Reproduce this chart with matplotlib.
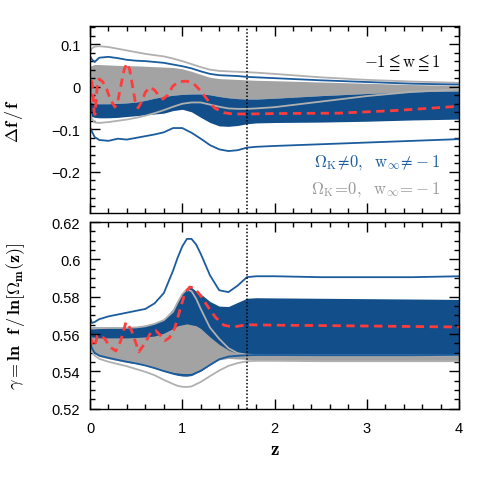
import matplotlib
matplotlib.use('Agg')
import matplotlib.pyplot as plt
from matplotlib.ticker import MultipleLocator, FuncFormatter

plt.rcParams['font.family'] = ['Liberation Sans', 'DejaVu Sans']
plt.rcParams['mathtext.fontset'] = 'cm'

# ---- top panel data (Delta f / f) ----
z_top = [0, 0.02, 0.05, 0.1, 0.2, 0.3, 0.4, 0.5, 0.6, 0.7, 0.8, 0.9, 1.0,
         1.1, 1.2, 1.3, 1.4, 1.5, 1.6, 1.7, 1.8, 2.0, 2.5, 3.0, 3.5, 4.0]
grey_hi_top = [0.048, 0.05, 0.052, 0.052, 0.051, 0.05, 0.049, 0.049, 0.048, 0.047,
               0.046, 0.045, 0.042, 0.036, 0.029, 0.022, 0.019, 0.018, 0.017, 0.016,
               0.015, 0.014, 0.011, 0.008, 0.005, 0.003]
grey_line_hi_top = [0.08, 0.09, 0.094, 0.095, 0.093, 0.089, 0.085, 0.081, 0.077, 0.074,
                    0.071, 0.066, 0.06, 0.053, 0.046, 0.04, 0.037, 0.036, 0.035, 0.034,
                    0.033, 0.03, 0.022, 0.016, 0.012, 0.009]
blue_line_hi_top = [0.072, 0.064, 0.058, 0.068, 0.07, 0.067, 0.063, 0.061, 0.06, 0.058,
                    0.056, 0.052, 0.048, 0.043, 0.036, 0.03, 0.027, 0.026, 0.025, 0.023,
                    0.022, 0.02, 0.015, 0.011, 0.007, 0.005]
blue_hi_top = [-0.036, -0.038, -0.04, -0.04, -0.04, -0.039, -0.038, -0.036, -0.032, -0.027,
               -0.023, -0.02, -0.018, -0.017, -0.017, -0.019, -0.023, -0.026, -0.028, -0.029,
               -0.029, -0.027, -0.021, -0.016, -0.012, -0.01]
blue_lo_top = [-0.068, -0.07, -0.072, -0.073, -0.073, -0.072, -0.07, -0.068, -0.066, -0.064,
               -0.062, -0.056, -0.053, -0.059, -0.072, -0.084, -0.092, -0.093, -0.091, -0.087,
               -0.085, -0.084, -0.083, -0.081, -0.078, -0.076]
grey_line_lo_top = [-0.06, -0.075, -0.084, -0.085, -0.083, -0.08, -0.077, -0.073, -0.068, -0.062,
                    -0.055, -0.047, -0.04, -0.037, -0.037, -0.042, -0.047, -0.051, -0.052, -0.052,
                    -0.051, -0.048, -0.035, -0.022, -0.012, -0.006]
blue_line_lo_top = [-0.095, -0.105, -0.118, -0.125, -0.127, -0.122, -0.124, -0.12, -0.116, -0.112,
                    -0.107, -0.097, -0.097, -0.108, -0.122, -0.137, -0.147, -0.151, -0.149, -0.143,
                    -0.141, -0.139, -0.135, -0.131, -0.127, -0.123]
z_red_top = [0, 0.01, 0.02, 0.03, 0.045, 0.055, 0.07, 0.085, 0.1, 0.14, 0.18, 0.22, 0.27,
             0.3, 0.335, 0.37, 0.4, 0.43, 0.46, 0.49, 0.52, 0.56, 0.6, 0.65, 0.7, 0.75,
             0.79, 0.84, 0.9, 0.97, 1.05, 1.12, 1.2, 1.27, 1.35, 1.45, 1.55, 1.7, 2.0,
             2.7, 3.3, 4.0]
red_top = [-0.024, 0.005, 0.012, -0.01, -0.06, -0.065, -0.02, 0.015, 0.018, 0.011, -0.005,
           -0.03, -0.048, -0.035, 0.003, 0.04, 0.055, 0.04, 0.003, -0.035, -0.05, -0.035,
           -0.013, -0.001, -0.008, -0.022, -0.029, -0.02, 0.002, 0.012, 0.013, 0.008, -0.01,
           -0.03, -0.05, -0.061, -0.064, -0.064, -0.063, -0.062, -0.056, -0.046]

# ---- bottom panel data (growth index gamma) ----
z_bot = [0, 0.02, 0.05, 0.1, 0.2, 0.3, 0.4, 0.5, 0.6, 0.7, 0.8, 0.9, 0.95, 1.0, 1.05,
         1.1, 1.15, 1.2, 1.3, 1.4, 1.5, 1.6, 1.7, 1.8, 2.0, 2.5, 3.0, 3.5, 4.0]
blue_line_hi_bot = [0.569, 0.566, 0.5665, 0.568, 0.5695, 0.5705, 0.5715, 0.5725, 0.5735, 0.5765,
                    0.582, 0.594, 0.601, 0.607, 0.611, 0.611, 0.608, 0.603, 0.5915, 0.5835,
                    0.5825, 0.586, 0.5905, 0.591, 0.591, 0.5905, 0.5905, 0.5905, 0.591]
blue_hi_bot = [0.5635, 0.5638, 0.5638, 0.5638, 0.5638, 0.5638, 0.5638, 0.564, 0.5648, 0.566,
               0.568, 0.5735, 0.578, 0.582, 0.585, 0.585, 0.583, 0.5815, 0.5775, 0.575,
               0.5748, 0.577, 0.5792, 0.5795, 0.5794, 0.5792, 0.579, 0.5788, 0.5786]
grey_line_hi_bot = [0.563, 0.563, 0.563, 0.5632, 0.5633, 0.5633, 0.5634, 0.5636, 0.5642, 0.5655,
                    0.5675, 0.572, 0.577, 0.5815, 0.584, 0.583, 0.579, 0.5735, 0.5635, 0.5575,
                    0.5525, 0.5498, 0.549, 0.5488, 0.5487, 0.5486, 0.5486, 0.5486, 0.5486]
grey_hi_bot = [0.5585, 0.5585, 0.5583, 0.558, 0.558, 0.558, 0.558, 0.5582, 0.5585, 0.559,
               0.5605, 0.563, 0.5645, 0.565, 0.5655, 0.565, 0.5645, 0.563, 0.5585, 0.5545,
               0.5515, 0.5496, 0.5489, 0.5489, 0.5489, 0.5489, 0.5489, 0.5489, 0.5489]
grey_lo_bot = [0.5535, 0.551, 0.5495, 0.548, 0.5468, 0.5458, 0.5448, 0.5441, 0.5434, 0.5422,
               0.5407, 0.5395, 0.5392, 0.5389, 0.5388, 0.539, 0.54, 0.5412, 0.544, 0.5462,
               0.547, 0.5467, 0.5465, 0.5462, 0.546, 0.5458, 0.5456, 0.5455, 0.5455]
blue_line_lo_bot = [0.556, 0.5525, 0.55, 0.5485, 0.5473, 0.5462, 0.5452, 0.5443, 0.5432, 0.5418,
                    0.5402, 0.5388, 0.5382, 0.5378, 0.5377, 0.538, 0.5392, 0.5403, 0.5435, 0.5465,
                    0.548, 0.5484, 0.5487, 0.5488, 0.5488, 0.5487, 0.5487, 0.5487, 0.5489]
grey_line_lo_bot = [0.557, 0.551, 0.5485, 0.5468, 0.5452, 0.544, 0.5428, 0.5413, 0.5398, 0.538,
                    0.5355, 0.5333, 0.5323, 0.5318, 0.5317, 0.532, 0.5332, 0.5344, 0.5375, 0.5405,
                    0.543, 0.5445, 0.5455, 0.5457, 0.5457, 0.5455, 0.5455, 0.5455, 0.5455]
z_red_bot = [0, 0.02, 0.05, 0.08, 0.11, 0.16, 0.22, 0.28, 0.33, 0.39, 0.45, 0.53, 0.6,
             0.66, 0.71, 0.76, 0.81, 0.86, 0.92, 0.98, 1.03, 1.08, 1.13, 1.2, 1.28, 1.36,
             1.45, 1.55, 1.63, 1.7, 2.0, 2.7, 3.3, 4.0]
red_bot = [0.559, 0.556, 0.5535, 0.559, 0.5595, 0.5575, 0.553, 0.551, 0.556, 0.5665, 0.562,
           0.5505, 0.5555, 0.561, 0.562, 0.5595, 0.5565, 0.558, 0.5635, 0.574, 0.582, 0.5852,
           0.5848, 0.5805, 0.5745, 0.569, 0.5648, 0.5638, 0.5645, 0.565, 0.5648, 0.5645,
           0.5642, 0.5638]

z_cut = 1.7

blue_fill = '#124e8a'
blue_line = '#1b5c9e'
grey_fill = '#a3a3a3'
grey_line = '#b0b0b0'
red = '#ff3b3b'


def tick_fmt(v, pos):
    s = '%g' % round(v, 4)
    return s.replace('-', '\u2212')


def style_axes(ax, major_y, minor_y):
    ax.set_xlim(0, 4)
    ax.xaxis.set_major_locator(MultipleLocator(1))
    ax.xaxis.set_minor_locator(MultipleLocator(0.2))
    ax.yaxis.set_major_locator(MultipleLocator(major_y))
    ax.yaxis.set_minor_locator(MultipleLocator(minor_y))
    ax.xaxis.set_major_formatter(FuncFormatter(tick_fmt))
    ax.yaxis.set_major_formatter(FuncFormatter(tick_fmt))
    ax.tick_params(which='both', direction='in', top=True, right=True, labelsize=10.5)
    ax.tick_params(which='major', length=7, width=1)
    ax.tick_params(which='minor', length=3.5, width=1)
    ax.tick_params(axis='x', pad=9)
    ax.tick_params(axis='y', pad=7)
    for s in ax.spines.values():
        s.set_linewidth(1)


fig = plt.figure(figsize=(4.85, 4.85), dpi=100)
ax1 = fig.add_axes([0.1856, 0.559, 0.761, 0.385])
ax2 = fig.add_axes([0.1856, 0.155, 0.761, 0.385])

# top panel
ax1.fill_between(z_top, blue_hi_top, grey_hi_top, color=grey_fill, lw=0)
ax1.fill_between(z_top, blue_lo_top, blue_hi_top, color=blue_fill, lw=0)
ax1.plot(z_top, grey_line_hi_top, color=grey_line, lw=1.3)
ax1.plot(z_top, grey_line_lo_top, color=grey_line, lw=1.3)
ax1.plot(z_top, blue_line_hi_top, color=blue_line, lw=1.3)
ax1.plot(z_top, blue_line_lo_top, color=blue_line, lw=1.3)
ax1.plot(z_red_top, red_top, color=red, lw=2, dashes=(3, 2))
ax1.axvline(z_cut, color='k', lw=1.1, ls=(0, (1, 1.3)))
ax1.set_ylim(-0.296, 0.142)
style_axes(ax1, 0.1, 0.02)
ax1.tick_params(labelbottom=False)
ax1.set_ylabel(r'$\mathbf{\Delta f\,/\,f}$', fontsize=13)
ax1.yaxis.set_label_coords(-0.175, 0.5)

ax1.text(0.95, 0.81, r'$-1\leqq\mathrm{w}\leqq1$', transform=ax1.transAxes,
         ha='right', va='center', fontsize=12, color='k')
ax1.text(0.95, 0.273, r'$\Omega_{\rm K}\!\neq\!0,\ \ \mathrm{w}_\infty\!\neq\!-1$',
         transform=ax1.transAxes, ha='right', va='center', fontsize=12, color=blue_line)
ax1.text(0.95, 0.128, r'$\Omega_{\rm K}\!=\!0,\ \ \mathrm{w}_\infty\!=\!-1$',
         transform=ax1.transAxes, ha='right', va='center', fontsize=12, color='#999999')

# bottom panel
ax2.fill_between(z_bot, blue_line_lo_bot, blue_hi_bot, color=blue_fill, lw=0)
ax2.fill_between(z_bot, grey_lo_bot, grey_hi_bot, color=grey_fill, lw=0)
ax2.plot(z_bot, grey_line_hi_bot, color=grey_line, lw=1.3)
ax2.plot(z_bot, grey_line_lo_bot, color=grey_line, lw=1.3)
ax2.plot(z_bot, blue_line_hi_bot, color=blue_line, lw=1.3)
ax2.plot(z_bot, blue_line_lo_bot, color=blue_line, lw=1.3)
ax2.plot(z_red_bot, red_bot, color=red, lw=2, dashes=(3, 2))
ax2.axvline(z_cut, color='k', lw=1.1, ls=(0, (1, 1.3)))
ax2.set_ylim(0.52, 0.62)
style_axes(ax2, 0.02, 0.005)
ax2.set_ylabel(r'$\gamma\mathbf{=ln\ \ f\,/\,ln[\Omega_m(z)]}$', fontsize=13)
ax2.yaxis.set_label_coords(-0.17, 0.5)
ax2.set_xlabel(r'$\mathbf{z}$', fontsize=14)
ax2.xaxis.set_label_coords(0.5, -0.17)

fig.savefig('out.png', dpi=100)
